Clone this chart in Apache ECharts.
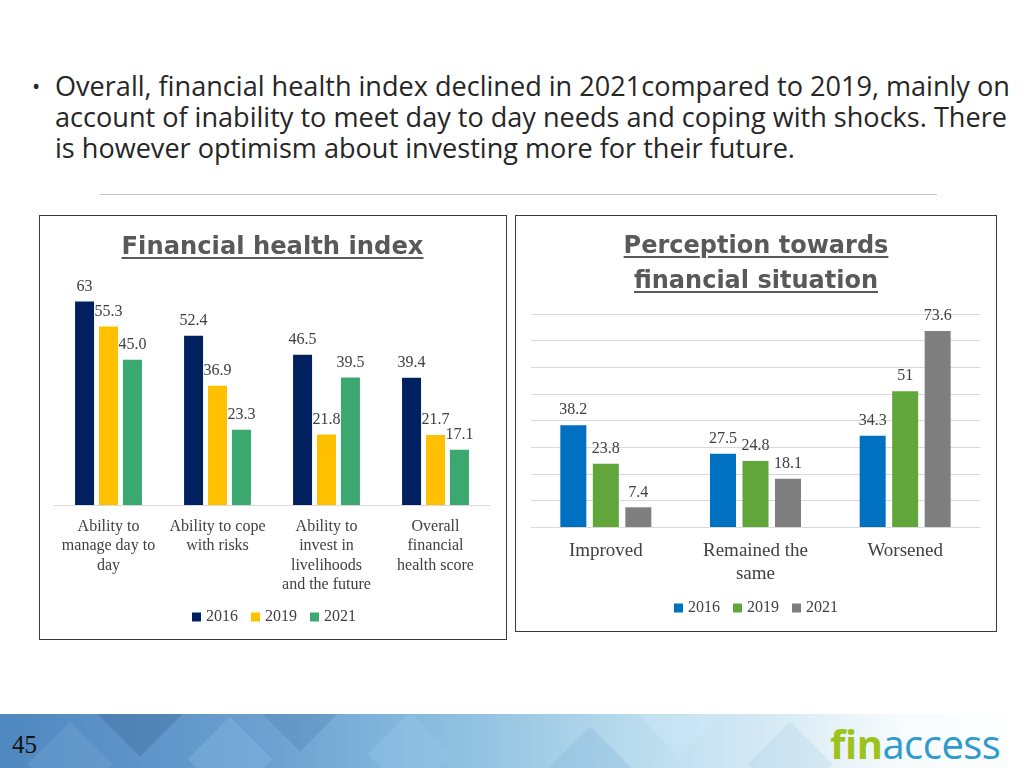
<!DOCTYPE html>
<html>
<head>
<meta charset="utf-8">
<script src="https://cdn.jsdelivr.net/npm/echarts@6/dist/echarts.min.js"></script>
<style>
  html, body { margin:0; padding:0; background:#fff; }
  #page { position:relative; width:1024px; height:768px; overflow:hidden; background:#fff; }
  .abs { position:absolute; }
  #bullet { left:32px; top:70px; font-family:"Open Sans", sans-serif; font-size:22px; line-height:31px; color:#262626; }
  #bodytext { left:55px; top:70px; font-family:"Open Sans", sans-serif; font-size:22px; line-height:31px; color:#262626; white-space:nowrap; }
  #sep { left:100px; top:194px; width:837px; height:1px; background:#c4c4c4; }
  .box { border:1px solid #3c3c3c; box-sizing:border-box; }
  .ttl { font-family:"DejaVu Sans", sans-serif; font-weight:bold; color:#595959; text-decoration:underline; text-decoration-thickness:2px; text-underline-offset:3px; white-space:nowrap; line-height:34px; text-align:center; }
  .chart { position:absolute; left:0; top:0; width:1024px; height:768px; }
  #footer { left:0; top:714px; width:1024px; height:54px; overflow:hidden;
    background:linear-gradient(90deg, #4f87c0 0%, #6a9fcf 25%, #8fc0e0 45%, #b9dbee 62%, #dcedf6 78%, #f7fbfd 88%, #ffffff 100%); }
  .dia { position:absolute; width:60px; height:60px; transform:rotate(45deg); }
  #pnum { left:12px; top:730px; font-family:"Liberation Serif", serif; font-size:25px; color:#111; line-height:30px; }
  #logo { left:830px; top:722px; font-family:"Open Sans", sans-serif; font-size:36px; line-height:44px; white-space:nowrap; letter-spacing:-0.5px; }
  #logo .f { color:#9cc31b; font-weight:700; }
  #logo .a { color:#2d9bcc; font-weight:400; }
</style>
</head>
<body>
<div id="page">
  <div id="bullet" class="abs">•</div>
  <div id="bodytext" class="abs"><span id="l1">Overall, financial health index declined in 2021compared to 2019, mainly on</span><br><span id="l2">account of inability to meet day to day needs and coping with shocks. There</span><br><span id="l3">is however optimism about investing more for their future.</span></div>
  <div id="sep" class="abs"></div>
  <div class="abs box" style="left:39px;top:215px;width:468px;height:425px;"></div>
  <div class="abs box" style="left:515px;top:215px;width:482px;height:417px;"></div>
  <div id="footer" class="abs">
    <div class="dia" style="left:110px;top:-30px;background:rgba(60,100,150,0.35);"></div>
    <div class="dia" style="left:40px;top:20px;background:rgba(120,170,215,0.35);"></div>
    <div class="dia" style="left:200px;top:15px;background:rgba(140,190,230,0.35);"></div>
    <div class="dia" style="left:270px;top:-35px;background:rgba(70,115,165,0.25);"></div>
    <div class="dia" style="left:380px;top:10px;background:rgba(150,200,235,0.35);"></div>
    <div class="dia" style="left:560px;top:25px;background:rgba(120,170,210,0.25);"></div>
    <div class="dia" style="left:650px;top:-30px;background:rgba(210,235,248,0.35);"></div>
    <div class="dia" style="left:760px;top:20px;background:rgba(150,195,225,0.2);"></div>
  </div>
  <div id="pnum" class="abs">45</div>
  <div id="logo" class="abs"><span class="f">fin</span><span class="a">access</span></div>
  <div id="chartL" class="chart"></div>
  <div id="chartR" class="chart"></div>
  <div id="t1" class="abs ttl">Financial health index</div>
  <div id="t2a" class="abs ttl">Perception towards</div>
  <div id="t2b" class="abs ttl">financial situation</div>
</div>
<script>
// ---------- data ----------
const yearNames = ['2016', '2019', '2021'];

const fhiCategories = ['Ability to\nmanage day to\nday', 'Ability to cope\nwith risks', 'Ability to\ninvest in\nlivelihoods\nand the future', 'Overall\nfinancial\nhealth score'];
const fhi2016 = [63, 52.4, 46.5, 39.4];
const fhi2019 = [55.3, 36.9, 21.8, 21.7];
const fhi2021 = [45.0, 23.3, 39.5, 17.1];

const pfsCategories = ['Improved', 'Remained the\nsame', 'Worsened'];
const pfs2016 = [38.2, 27.5, 34.3];
const pfs2019 = [23.8, 24.8, 51];
const pfs2021 = [7.4, 18.1, 73.6];

// ---------- text fitting helpers ----------
function fitWidth(el, target) {
  const cs = parseFloat(getComputedStyle(el).fontSize);
  const w = el.getBoundingClientRect().width;
  if (w > 0) el.style.fontSize = (cs * target / w) + 'px';
}
// body text: fit the second line to its width
(function () {
  const bt = document.getElementById('bodytext');
  const l2 = document.getElementById('l2');
  const cs = parseFloat(getComputedStyle(bt).fontSize);
  const w = l2.getBoundingClientRect().width;
  if (w > 0) bt.style.fontSize = (cs * 952 / w) + 'px';
})();
function placeTitle(id, cx, cy, size) {
  const el = document.getElementById(id);
  el.style.fontSize = size + 'px';
  const r = el.getBoundingClientRect();
  el.style.left = (cx - r.width / 2) + 'px';
  el.style.top = (cy - 17) + 'px';
}
(function () {
  const t1 = document.getElementById('t1');
  t1.style.fontSize = '24px';
  const w1 = t1.getBoundingClientRect().width;
  const s1 = 24 * 302 / w1;
  placeTitle('t1', 272.5, 246, s1);
  const t2 = document.getElementById('t2a');
  t2.style.fontSize = '24px';
  const w2 = t2.getBoundingClientRect().width;
  const s2 = 24 * 265 / w2;
  placeTitle('t2a', 756, 245, s2);
  placeTitle('t2b', 756, 280, s2);
  const logo = document.getElementById('logo');
  fitWidth(logo, 170);
})();

// ---------- left chart ----------
const serif = '"Liberation Serif", "Times New Roman", serif';
const labelColor = '#404040';
const leftColors = ['#002060', '#FFC000', '#3BA96F'];
const leftData = [fhi2016, fhi2019, fhi2021];

const chartL = echarts.init(document.getElementById('chartL'));
chartL.setOption({
  animation: false,
  color: leftColors,
  grid: { left: 54, right: 534, top: 279, bottom: 263 },
  legend: {
    data: yearNames, left: 192, top: 608, padding: 0,
    icon: 'rect', itemWidth: 9, itemHeight: 9, itemGap: 13,
    textStyle: { fontFamily: serif, fontSize: 16, color: labelColor, lineHeight: 18 }
  },
  xAxis: {
    type: 'category', data: fhiCategories,
    axisLine: { lineStyle: { color: '#d9d9d9', width: 1 } },
    axisTick: { show: false },
    axisLabel: { interval: 0, fontFamily: serif, fontSize: 16, lineHeight: 19.5, color: labelColor, margin: 12 }
  },
  yAxis: { type: 'value', min: 0, max: 70, show: false, splitLine: { show: false } },
  series: yearNames.map((n, i) => ({
    name: n, type: 'bar', data: leftData[i], barWidth: 19, barGap: '26%',
    label: {
      show: true, position: 'top', distance: 7,
      fontFamily: serif, fontSize: 16, color: labelColor,
      formatter: i === 2 ? (p => p.value.toFixed(1)) : (p => String(p.value))
    }
  }))
});

// ---------- right chart ----------
const rightColors = ['#0070C0', '#61A63A', '#7F7F7F'];
const rightData = [pfs2016, pfs2019, pfs2021];
const chartR = echarts.init(document.getElementById('chartR'));
chartR.setOption({
  animation: false,
  color: rightColors,
  grid: { left: 531, right: 44, top: 314, bottom: 241 },
  legend: {
    data: yearNames, left: 674, top: 599, padding: 0,
    icon: 'rect', itemWidth: 9, itemHeight: 9, itemGap: 13,
    textStyle: { fontFamily: serif, fontSize: 16, color: labelColor, lineHeight: 18 }
  },
  xAxis: {
    type: 'category', data: pfsCategories,
    axisLine: { lineStyle: { color: '#d9d9d9', width: 1 } },
    axisTick: { show: false },
    axisLabel: { interval: 0, fontFamily: serif, fontSize: 19, lineHeight: 23, color: labelColor, margin: 13 }
  },
  yAxis: {
    type: 'value', min: 0, max: 80, interval: 10,
    axisLabel: { show: false }, axisLine: { show: false }, axisTick: { show: false },
    splitLine: { show: true, lineStyle: { color: '#d9d9d9', width: 1 } }
  },
  series: yearNames.map((n, i) => ({
    name: n, type: 'bar', data: rightData[i], barWidth: 26, barGap: '25%',
    label: { show: true, position: 'top', distance: 7, fontFamily: serif, fontSize: 16, color: labelColor }
  }))
});
</script>
</body>
</html>
